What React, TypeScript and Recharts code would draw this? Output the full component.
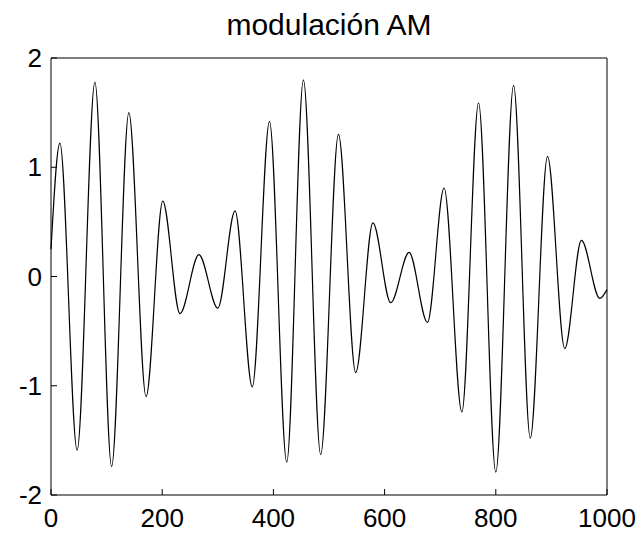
import { Line, LineChart, XAxis, YAxis } from 'recharts'

// sample index of every crest / trough
const sampleX = [
  0, 16, 47, 79, 109, 140, 171, 201, 232, 266, 300, 331, 362, 393, 424, 454, 485,
  517, 548, 579, 611, 644, 677, 707, 739, 769, 800, 832, 862, 893, 924, 954, 987, 1000,
]
const amplitude = [
  0.25, 1.22, -1.59, 1.78, -1.74, 1.5, -1.1, 0.69, -0.34, 0.2, -0.29, 0.6, -1.01, 1.42,
  -1.7, 1.8, -1.63, 1.3, -0.88, 0.49, -0.24, 0.22, -0.42, 0.81, -1.24, 1.59, -1.79, 1.75,
  -1.48, 1.1, -0.66, 0.33, -0.2, -0.12,
]
const xTicks = [0, 200, 400, 600, 800, 1000]
const yTicks = [-2, -1, 0, 1, 2]
const title = 'modulación AM'

const data = sampleX.map((x, i) => ({ x, y: amplitude[i] }))

const font = "'Liberation Sans', Arial, Helvetica, sans-serif"
const tickStyle = { fontSize: 26, fill: '#000', fontFamily: font }

export default function App() {
  return (
    <div
      style={{
        position: 'absolute',
        left: 0,
        top: 0,
        width: 642,
        height: 535,
        background: '#fff',
        fontFamily: font,
      }}
    >
      <div
        style={{
          position: 'absolute',
          left: 51,
          width: 556,
          top: 10,
          textAlign: 'center',
          fontSize: 30,
          lineHeight: '30px',
          color: '#000',
        }}
      >
        {title}
      </div>
      <LineChart
        width={642}
        height={535}
        data={data}
        margin={{ top: 57, right: 34, bottom: 0, left: 0 }}
      >
        <XAxis
          dataKey='x'
          type='number'
          domain={[0, 1000]}
          ticks={xTicks}
          interval={0}
          height={40}
          stroke='#000'
          tickSize={-6}
          tickMargin={20}
          tick={tickStyle}
        />
        <XAxis
          xAxisId='top'
          orientation='top'
          type='number'
          domain={[0, 1000]}
          ticks={xTicks}
          interval={0}
          height={1}
          stroke='#000'
          tickSize={-6}
          tick={false}
        />
        <YAxis
          type='number'
          domain={[-2, 2]}
          ticks={yTicks}
          interval={0}
          width={51}
          stroke='#000'
          tickSize={-6}
          tickMargin={15}
          tick={tickStyle}
        />
        <YAxis
          yAxisId='right'
          orientation='right'
          type='number'
          domain={[-2, 2]}
          ticks={yTicks}
          interval={0}
          width={1}
          stroke='#000'
          tickSize={-6}
          tick={false}
        />
        <Line
          type='monotone'
          dataKey='y'
          stroke='#000'
          strokeWidth={1.2}
          dot={false}
          activeDot={false}
          isAnimationActive={false}
        />
      </LineChart>
    </div>
  )
}
